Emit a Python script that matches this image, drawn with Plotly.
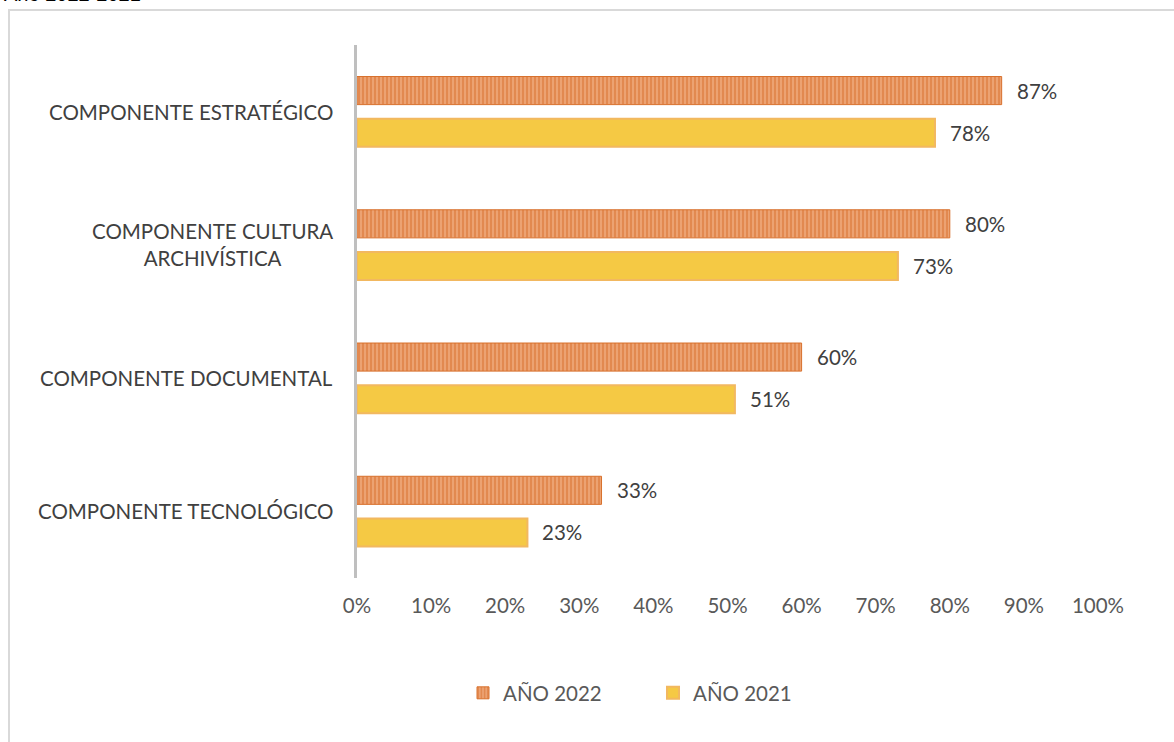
import plotly.graph_objects as go

categories = [
    "COMPONENTE ESTRATÉGICO",
    "COMPONENTE CULTURA<br>ARCHIVÍSTICA",
    "COMPONENTE DOCUMENTAL",
    "COMPONENTE TECNOLÓGICO",
]
values_2022 = [0.87, 0.80, 0.60, 0.33]
values_2021 = [0.78, 0.73, 0.51, 0.23]
series_names = ["AÑO 2022", "AÑO 2021"]
tick_vals = [0, 0.1, 0.2, 0.3, 0.4, 0.5, 0.6, 0.7, 0.8, 0.9, 1.0]
tick_text = ["0%", "10%", "20%", "30%", "40%", "50%", "60%", "70%", "80%", "90%", "100%"]
title_text = "Año 2022-2021"

FONT = "Lato, Open Sans, sans-serif"
FS = 20.5
W, H = 1174, 742
L, R, T, B = 357, 76, 45, 164
pw, ph = W - L - R, H - T - B

fig = go.Figure()
fig.add_trace(go.Bar(
    name=series_names[0], y=categories, x=values_2022, orientation="h",
    marker=dict(color="#E2803F", line=dict(color="#D8702C", width=1),
                pattern=dict(shape="|", fgcolor="#D66824", bgcolor="#EFAA7C",
                             size=4, solidity=0.62, fillmode="overlay")),
))
fig.add_trace(go.Bar(
    name=series_names[1], y=categories, x=values_2021, orientation="h",
    marker=dict(color="#F5C944", line=dict(color="#F2B860", width=2)),
))

# value labels beside each bar
annotations = []
for vals, shift in ((values_2022, -21), (values_2021, 21)):
    for cat, v in zip(categories, vals):
        annotations.append(dict(
            x=v, y=cat, xref="x", yref="y", text=f"{round(v * 100)}%",
            showarrow=False, xanchor="left", xshift=13, yshift=-shift,
            font=dict(family=FONT, size=FS, color="#404040"),
        ))

# category labels, centred lines anchored at the axis
for cat in categories:
    annotations.append(dict(
        x=0, y=cat, xref="paper", yref="y", text=cat, showarrow=False,
        xanchor="right", xshift=-22, align="center",
        font=dict(family=FONT, size=FS, color="#404040"),
    ))

# title line sitting above the frame
annotations.append(dict(
    x=(2 - L) / pw, y=(H - B - 7) / ph, xref="paper", yref="paper",
    text=title_text, showarrow=False, xanchor="left", yanchor="bottom",
    font=dict(family="Liberation Sans, Arial", size=20, color="#000000"),
))

fig.update_layout(
    width=W, height=H,
    margin=dict(l=L, r=R, t=T, b=B),
    paper_bgcolor="white", plot_bgcolor="white",
    barmode="group", bargap=0.368, bargroupgap=0.333,
    showlegend=True,
    legend=dict(orientation="h", x=(463 - L) / pw, xanchor="left",
                y=-(693 - (H - B)) / ph, yanchor="middle",
                font=dict(family=FONT, size=FS, color="#595959"),
                traceorder="normal", itemwidth=30, entrywidth=145),
    annotations=annotations,
    shapes=[dict(type="rect", xref="paper", yref="paper",
                 x0=(9 - L) / pw, x1=(1200 - L) / pw,
                 y0=(H - B - 760) / ph, y1=(H - B - 10) / ph,
                 line=dict(color="#D9D9D9", width=2), fillcolor="rgba(0,0,0,0)",
                 layer="below")],
)
fig.update_xaxes(range=[0, 1], tickvals=tick_vals, ticktext=tick_text,
                 showgrid=False, zeroline=False, showline=False,
                 tickfont=dict(family=FONT, size=FS, color="#595959"), ticks="",
                 ticklabelstandoff=13)
fig.update_yaxes(autorange="reversed", showticklabels=False, showgrid=False,
                 zeroline=False, showline=True, linecolor="#BFBFBF", linewidth=3,
                 ticks="")

fig.write_html("out.html")
